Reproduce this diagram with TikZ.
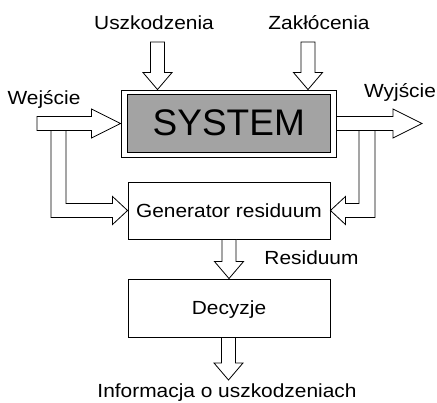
\documentclass[tikz,border=0pt]{standalone}
\usepackage{fontspec}
\setmainfont[FakeStretch=1.1]{Liberation Sans}
\newfontfamily\bigfont{Liberation Sans}
\usetikzlibrary{calc}
\newcommand\arrdown[2]{%
  \path let \p1=(#1), \p2=(#2) in [blk]
    (\x2-7pt,\y1) -- (\x2-7pt,\y2+17pt) -- (\x2-14.5pt,\y2+17pt) -- (\x2,\y2)
    -- (\x2+14.5pt,\y2+17pt) -- (\x2+7pt,\y2+17pt) -- (\x2+7pt,\y1) -- cycle;}
\newcommand\arrright[2]{%
  \path let \p1=(#1), \p2=(#2) in [blk]
    (\x1,\y2+7pt) -- (\x2-29pt,\y2+7pt) -- (\x2-29pt,\y2+14.5pt) -- (\x2,\y2)
    -- (\x2-29pt,\y2-14.5pt) -- (\x2-29pt,\y2-7pt) -- (\x1,\y2-7pt) -- cycle;}
\begin{document}
\begin{tikzpicture}[x=1pt,y=-1pt,
  lbl/.style={font=\fontsize{19}{21}\selectfont, inner sep=0pt, anchor=base},
  box/.style={draw, line width=0.9pt, minimum width=202pt, inner sep=0pt,
    font=\fontsize{19}{21}\selectfont, text depth=0pt},
  blk/.style={draw, line width=0.8pt, line join=miter, fill=white},
  lshape/.style={draw, line width=0.8pt, line join=miter}]
\useasboundingbox (0,0) rectangle (437,403);

% system block
\node[draw, line width=0.9pt, minimum width=215pt, minimum height=67pt, inner sep=0pt] (sys) at (228.5,123.5) {};
\node[draw, line width=0.6pt, fill=black!36, minimum width=202.5pt, minimum height=57.5pt, inner sep=0pt,
  font=\bigfont\fontsize{37}{40}\selectfont] (core) at (228.75,123.25) {SYSTEM};

% other blocks
\node[box, minimum height=57pt] (gen) at (229,210.5) {Generator residuum};
\node[box, minimum height=58pt] (dec) at (229,308) {Decyzje};

% labels
\node[lbl] (usz) at (154,30) {Uszkodzenia};
\node[lbl] (zak) at (319,30) {Zakłócenia};
\node[lbl] (wej) at (44,105) {Wejście};
\node[lbl] (wyj) at (400,98) {Wyjście};
\node[lbl] (res) at (311.5,265) {Residuum};
\node[lbl] (inf) at (227,398) {Informacja o uszkodzeniach};

% helper coordinates
\coordinate (ustop) at (157.5,42);
\coordinate (zatop) at (308,42);
\coordinate (wein) at (37,123.5);
\coordinate (wyout) at (422,123.5);
\coordinate (infout) at (228.5,380);
\coordinate (lb1) at (51,130.5);
\coordinate (lb2) at (66,130.5);
\coordinate (rb1) at (375,130.5);
\coordinate (rb2) at (359,130.5);

% input arrows into system
\arrdown{ustop}{ustop |- sys.north}
\arrdown{zatop}{zatop |- sys.north}
\arrright{wein}{sys.west}
\arrright{sys.east}{wyout}

% branches to generator
\draw[lshape] (lb1) |- ($(gen.west)+(-15,7)$) -- ++(0,7) -- (gen.west)
  -- ($(gen.west)+(-15,-14)$) -- ++(0,7) -| (lb2);
\draw[lshape] (rb1) |- ($(gen.east)+(15,7)$) -- ++(0,7) -- (gen.east)
  -- ($(gen.east)+(15,-14)$) -- ++(0,7) -| (rb2);

% vertical arrows
\arrdown{gen.south}{dec.north}
\arrdown{dec.south}{infout}
\end{tikzpicture}
\end{document}
